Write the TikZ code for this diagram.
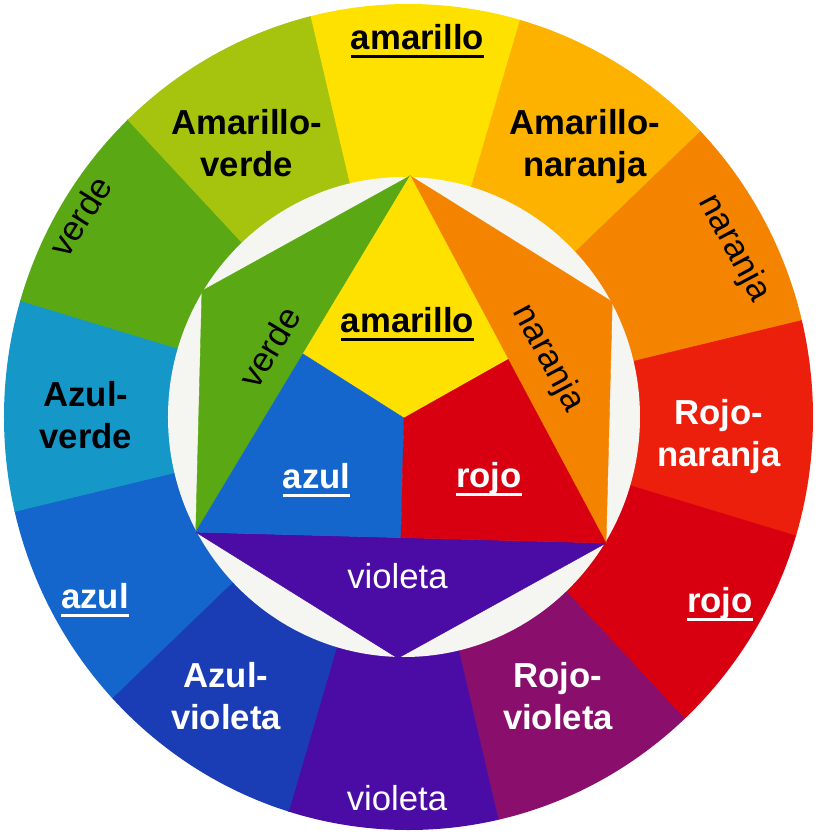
\documentclass[tikz,border=0pt]{standalone}
\usepackage{fontspec}
\setmainfont{Liberation Sans}
\usetikzlibrary{calc}
\definecolor{cAm}{HTML}{FFE100}
\definecolor{cAmNa}{HTML}{FDB200}
\definecolor{cNa}{HTML}{F48400}
\definecolor{cRoNa}{HTML}{EC1E0C}
\definecolor{cRo}{HTML}{D80010}
\definecolor{cRoVi}{HTML}{8A0E6C}
\definecolor{cVi}{HTML}{4A0CA4}
\definecolor{cAzVi}{HTML}{1A3CB4}
\definecolor{cAz}{HTML}{1466CC}
\definecolor{cAzVe}{HTML}{1598C8}
\definecolor{cVe}{HTML}{5AA814}
\definecolor{cAmVe}{HTML}{A6C40E}
\definecolor{cBg}{HTML}{F5F5F1}
\newcommand{\uln}[1]{\setbox0\hbox{#1}\rlap{\copy0}\rule[-8.5pt]{\wd0}{3pt}}
\begin{document}
\begin{tikzpicture}[x=1pt,y=1pt,
	lab/.style={inner sep=0pt,font=\fontsize{34.7}{42}\selectfont},
	blab/.style={inner sep=0pt,align=center,font=\fontsize{34.7}{42}\selectfont\bfseries}]
\useasboundingbox (-404,-419) rectangle (413,417);
%ring
\begin{scope}[yscale=1.018]
\clip (4.5,0) circle[x radius=404.5,y radius=405.7];
\foreach \c [count=\i from 0] in {cAm,cAmNa,cNa,cRoNa,cRo,cRoVi,cVi,cAzVi,cAz,cAzVe,cVe,cAmVe}
	\filldraw[fill=\c,draw=\c,line width=0.6pt] (0,0) -- ({103.4-30*\i}:480) arc[start angle={103.4-30*\i},end angle={73.4-30*\i},radius=480] -- cycle;
\end{scope}
% inner disk
\fill[cBg] (0,0) circle[x radius=236,y radius=240];
% star
\begin{scope}[yscale=1.018]
\coordinate (ty) at (88.5:237);
\coordinate (to) at (28.5:237);
\coordinate (tr) at (-31.5:237);
\coordinate (tv) at (-91.5:237);
\coordinate (tb) at (-151.5:237);
\coordinate (tg) at (148.5:237);
\coordinate (mg) at ($(ty)!0.5!(tb)$);
\coordinate (mo) at ($(ty)!0.5!(tr)$);
\coordinate (mv) at ($(tb)!0.5!(tr)$);
\coordinate (ctr) at (0,-1);
\filldraw[fill=cVe,draw=cVe] (ty) -- (tg) -- (tb) -- cycle;
\filldraw[fill=cNa,draw=cNa] (ty) -- (to) -- (tr) -- cycle;
\filldraw[fill=cVi,draw=cVi] (tb) -- (tv) -- (tr) -- cycle;
\filldraw[fill=cAm,draw=cAm] (ty) -- (mg) -- (ctr) -- (mo) -- cycle;
\filldraw[fill=cAz,draw=cAz] (tb) -- (mg) -- (ctr) -- (mv) -- cycle;
\filldraw[fill=cRo,draw=cRo] (tr) -- (mo) -- (ctr) -- (mv) -- cycle;
\end{scope}
% labels ring
\node[lab,font=\fontsize{34.7}{42}\selectfont\bfseries,anchor=base] (am) at (13.5,367) {\uln{amarillo}};
\node[blab] (amna) at (181,270) {Amarillo-\\naranja};
\node[lab,rotate=-62] (na) at (330,169) {naranja};
\node[blab,text=white] (rona) at (315,-19.5) {Rojo-\\naranja};
\node[lab,font=\fontsize{34.7}{42}\selectfont\bfseries,text=white,anchor=base] (ro) at (316,-195) {\uln{rojo}};
\node[blab,text=white] (rovi) at (154,-279.5) {Rojo-\\violeta};
\node[lab,text=white,anchor=base] (vi) at (-7,-393) {violeta};
\node[blab,text=white] (azvi) at (-178,-279.5) {Azul-\\violeta};
\node[lab,font=\fontsize{34.7}{42}\selectfont\bfseries,text=white,anchor=base] (az) at (-309,-191) {\uln{azul}};
\node[blab] (azve) at (-318,1.5) {Azul-\\verde};
\node[lab,rotate=58] (ve) at (-324,201) {verde};
\node[blab] (amve) at (-157,273.5) {Amarillo-\\verde};
% labels star
\node[lab,font=\fontsize{34.7}{42}\selectfont\bfseries,anchor=base] (iam) at (3.5,85) {\uln{amarillo}};
\node[lab,rotate=59] (ive) at (-135,70) {verde};
\node[lab,rotate=-62] (ina) at (144,59) {naranja};
\node[lab,font=\fontsize{34.7}{42}\selectfont\bfseries,text=white,anchor=base] (iaz) at (-87.5,-71) {\uln{azul}};
\node[lab,font=\fontsize{34.7}{42}\selectfont\bfseries,text=white,anchor=base] (iro) at (85,-70) {\uln{rojo}};
\node[lab,text=white,anchor=base] (ivi) at (-6.5,-171) {violeta};
\end{tikzpicture}
\end{document}
